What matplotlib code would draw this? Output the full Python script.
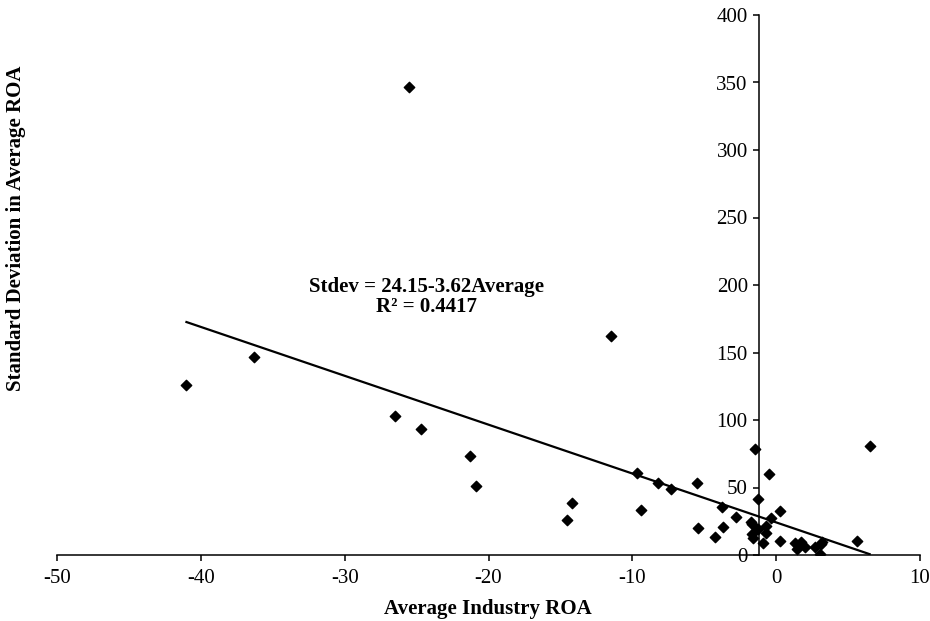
import numpy as np
import matplotlib.pyplot as plt

plt.rcParams['font.family'] = ['Liberation Serif', 'DejaVu Serif']
plt.rcParams['axes.unicode_minus'] = False

avgRoa = [-41.0, -36.3, -26.5, -25.5, -24.7, -21.3, -20.9, -14.55, -14.2, -11.5,
          -9.67, -9.4, -8.2, -7.3, -5.5, -5.4, -4.28, -3.78, -3.68, -2.78,
          -1.78, -1.65, -1.7, -1.62, -1.44, -1.25, -1.25, -0.72, -0.72, -0.53,
          -0.9, -0.33, 0.3, 0.3, 1.32, 1.48, 1.73, 1.97, 2.7, 3.03,
          3.1, 3.19, 5.65, 6.5]
stdevRoa = [126, 146.5, 103, 347, 93, 73, 51, 26, 38.5, 162,
            61, 33, 53.6, 48.6, 53.3, 20, 13.6, 35.8, 20.6, 28.4,
            24.7, 23, 15.3, 12.6, 78.5, 41.5, 19, 21.5, 16.3, 59.8,
            9.1, 27.2, 32.6, 10.4, 9.1, 4.4, 9.4, 6.2, 5.7, 1.0,
            7.9, 9.4, 10.6, 80.5]
fitIntercept = 24.15
fitSlope = -3.62
fitLabel = 'Stdev = 24.15-3.62Average\nR\u00b2 = 0.4417'

fig = plt.figure(figsize=(9.3, 6.21), dpi=100)
ax = fig.add_axes([57/930, 66/621, 863/930, 540/621])

ax.scatter(avgRoa, stdevRoa, marker='D', s=28, color='black', zorder=3)
xs = np.array([min(avgRoa), max(avgRoa)])
ax.plot(xs, fitIntercept + fitSlope*xs, color='black', lw=1.6)

ax.set_xlim(-50, 10)
ax.set_ylim(0, 400)
ax.set_xticks(np.arange(-50, 11, 10))
ax.set_yticks(np.arange(0, 401, 50))
ax.spines['top'].set_visible(False)
ax.spines['right'].set_visible(False)
ax.spines['left'].set_position(('data', -1.2))
ax.spines['bottom'].set_position(('data', 0))
for s in ['left', 'bottom']:
    ax.spines[s].set_linewidth(1.1)
ax.tick_params(axis='both', direction='out', length=4, width=1.1, labelsize=15)
ax.tick_params(axis='x', pad=6)
ax.tick_params(axis='y', pad=4)

# regression annotation, placed like Excel's trendline label
ax.text(-24.3, 191, fitLabel, ha='center', va='center', fontsize=15,
        fontweight='bold', linespacing=1.0)

fig.text(488/930, 1 - 609/621, 'Average Industry ROA', ha='center', va='center',
         fontsize=15, fontweight='bold')
fig.text(16/930, 1 - 228/621, 'Standard Deviation in Average ROA', ha='center',
         va='center', rotation=90, fontsize=15, fontweight='bold')

fig.savefig('out.png', dpi=100)
